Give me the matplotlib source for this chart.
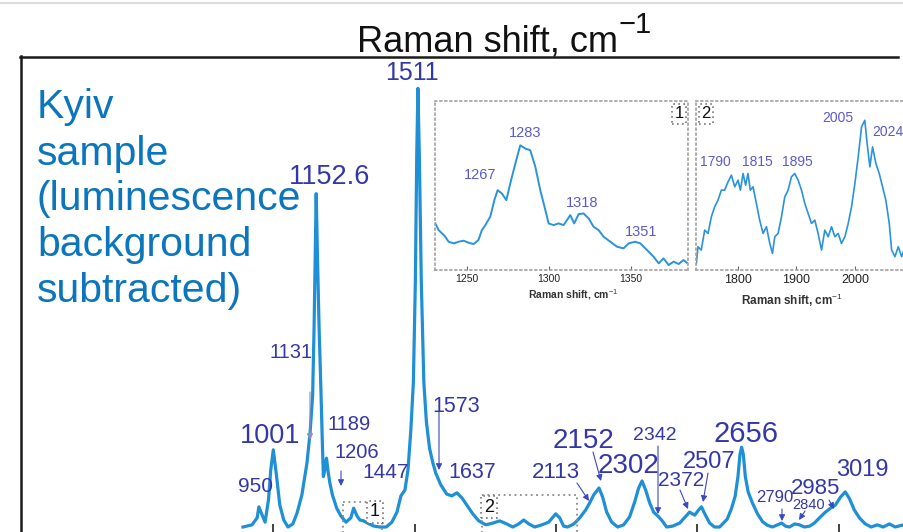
import matplotlib
matplotlib.use("Agg")
import matplotlib.pyplot as plt
from matplotlib.lines import Line2D
from matplotlib.patches import Rectangle
from matplotlib.transforms import Affine2D

W, H = 904, 532

# main spectrum: Raman shift (cm-1) vs intensity (a.u., background subtracted)
shift = [
    894, 926, 944, 950, 962, 972, 984, 992, 1001, 1012, 1024, 1038, 1053, 1070,
    1085, 1102, 1120, 1131, 1140, 1145, 1149, 1152.6, 1157, 1163, 1169, 1174,
    1178, 1183, 1189, 1195, 1201, 1210, 1225, 1240, 1258, 1275, 1285, 1297,
    1307, 1320, 1340, 1357, 1378, 1400, 1420, 1438, 1452, 1466, 1477, 1487,
    1496, 1503, 1508, 1512, 1517, 1524, 1533, 1542, 1553, 1565, 1575, 1593,
    1614, 1632, 1650, 1668, 1685, 1706, 1727, 1752, 1777, 1801, 1826, 1847,
    1868, 1886, 1904, 1925, 1950, 1974, 1999, 2013, 2027, 2041, 2063, 2084,
    2105, 2119, 2133, 2152, 2165, 2179, 2197, 2218, 2239, 2260, 2278, 2292,
    2304, 2317, 2331, 2345, 2360, 2373, 2391, 2412, 2437, 2454, 2472, 2490,
    2504, 2514, 2528, 2543, 2560, 2578, 2605, 2620, 2633, 2643, 2650, 2656,
    2662, 2669, 2679, 2694, 2712, 2730, 2747, 2765, 2783, 2797, 2811, 2825,
    2843, 2860, 2878, 2896, 2913, 2931, 2952, 2970, 2987, 3005, 3022, 3036,
    3054, 3072, 3093, 3114, 3135, 3156, 3178, 3199, 3227,
]
intensity = [
    0, 5, 21, 46, 27, 11, 62, 130, 176, 119, 50, 16, 0, 7,
    32, 73, 146, 215, 300, 450, 620, 760, 620, 450, 320, 200,
    115, 130, 157, 125, 100, 73, 43, 25, 11, 21, 43, 25,
    16, 14, 7, 2, 0, 0, 11, 34, 71, 84, 130, 221,
    330, 560, 850, 1000, 850, 560, 330, 240, 180, 146, 123, 96,
    75, 71, 78, 66, 50, 30, 14, 5, 9, 14, 7, 0,
    7, 16, 7, 0, 5, 11, 30, 21, 2, 0, 7, 21,
    39, 55, 73, 89, 68, 34, 11, 0, 5, 23, 57, 89,
    105, 84, 55, 34, 25, 16, 0, 2, 9, 21, 34, 27,
    39, 46, 27, 9, 0, 0, 18, 42, 70, 115, 165, 182,
    165, 115, 80, 55, 30, 12, 4, 0, 5, 9, 2, 0,
    7, 5, 0, 2, 9, 21, 34, 43, 50, 68, 80, 66,
    39, 21, 7, 0, 5, 0, 7, 0, 5,
]

# inset 1: 1230-1385 cm-1 region
inset1_shift = [
    1230.7, 1232.7, 1234.8, 1236.8, 1238.8, 1241.9, 1244.9, 1248.0, 1251.0,
    1254.0, 1257.0, 1259.1, 1261.2, 1264.2, 1266.7, 1268.7, 1271.3, 1274.0,
    1276.4, 1279.5, 1282.5, 1285.6, 1288.6, 1291.7, 1294.7, 1297.8, 1299.8,
    1302.8, 1305.9, 1308.9, 1311.0, 1313.0, 1315.4, 1318.1, 1321.1, 1324.2,
    1327.2, 1330.3, 1333.3, 1337.4, 1341.5, 1345.5, 1348.6, 1352.6, 1355.7,
    1359.8, 1363.8, 1366.9, 1369.9, 1373.0, 1376.0, 1379.1, 1382.1, 1384.1,
]
inset1_int = [
    28, 24, 22, 20, 17, 16, 17, 17.6, 16.4,
    15.6, 18, 24, 27, 32, 42, 48, 46, 42,
    52, 64, 75, 73, 72, 62, 48, 36, 28,
    27, 28, 27, 30, 33, 28, 33.6, 34, 31,
    26, 24, 20, 17, 14, 13, 16, 17, 16,
    12, 8, 4, 7, 3, 5, 3.6, 6, 4.4,
]

# inset 2: 1730-2085 cm-1 region
inset2_shift = [
    1728.6, 1731.4, 1737.0, 1742.9, 1748.6, 1754.3, 1760.0, 1765.7, 1771.4,
    1777.0, 1782.9, 1788.6, 1794.3, 1800.0, 1804.0, 1808.6, 1813.0, 1817.0,
    1821.0, 1825.7, 1831.4, 1837.0, 1842.9, 1848.6, 1854.3, 1858.9, 1862.9,
    1868.6, 1874.3, 1880.0, 1885.7, 1891.4, 1897.0, 1902.9, 1908.6, 1914.3,
    1920.0, 1925.7, 1931.4, 1937.0, 1942.9, 1948.6, 1954.3, 1960.0, 1965.7,
    1971.4, 1977.0, 1982.9, 1988.6, 1994.3, 2000.0, 2005.7, 2011.4, 2017.0,
    2021.0, 2025.7, 2030.3, 2036.0, 2041.7, 2047.4, 2053.0, 2058.9, 2062.9,
    2068.6, 2074.3, 2080.0, 2084.0,
]
inset2_int = [
    4, 14, 12, 24, 22, 32, 38, 42, 48,
    48, 53, 57, 50, 54, 48, 58, 51, 58,
    48, 50, 40, 30, 22, 26, 16, 10, 20,
    22, 32, 44, 48, 56, 58, 54, 48, 40,
    34, 28, 30, 22, 12, 24, 20, 26, 20,
    22, 16, 20, 28, 38, 52, 68, 86, 90,
    76, 62, 74, 64, 58, 50, 42, 28, 12,
    8, 14, 8, 12,
]

main_ticks = [1000, 1500, 2000, 2500, 3000]
inset1_ticks = [1250, 1300, 1350]
inset2_ticks = [1800, 1900, 2000]

peak_labels = ["1511", "1152.6", "1131", "1001", "1189", "1206", "950", "1447",
               "1573", "1637", "2113", "2152", "2342", "2302", "2656", "2507",
               "2372", "3019", "2985", "2790", "2840"]
inset1_labels = ["1267", "1283", "1318", "1351"]
inset2_labels = ["1790", "1815", "1895", "2005", "2024"]
sample_lines = ["Kyiv", "sample", "(luminescence", "background", "subtracted)"]

# layout (figure pixels, y downward)
peak_pos = [(412, 73, 18), (330, 177, 19.5), (291, 352, 14.5), (270, 436, 19.5),
            (349, 424, 14.5), (357, 452, 14.5), (256, 486, 15), (386, 473, 15),
            (456, 406, 15.5), (472, 473, 15.5), (556, 473, 16), (584, 441, 20),
            (655, 435, 14), (629, 466, 20), (746, 434, 21), (709, 462, 17),
            (681, 480, 15), (862, 470, 17), (816, 488, 16), (775, 497, 12),
            (809, 505, 10.5)]
inset1_pos = [(480, 175), (525, 133), (582, 203), (641, 232)]
inset2_pos = [(715, 162), (757, 162), (797, 162), (838, 118), (888, 132)]
arrows = [((310, 392), (310, 440)), ((341, 471), (341, 486)),
          ((439, 412), (439, 470)), ((577, 483), (589, 501)),
          ((593, 452), (601, 481)), ((658, 446), (658, 514)),
          ((680, 490), (688, 509)), ((708, 473), (703, 502)),
          ((782, 509), (782, 521)), ((805, 511), (799, 520)),
          ((829, 500), (834, 509))]

LABEL_FONT = ["Liberation Sans Narrow", "Liberation Sans"]
plt.rcParams["font.family"] = ["Liberation Sans", "DejaVu Sans"]
plt.rcParams["mathtext.fontset"] = "custom"
plt.rcParams["mathtext.rm"] = "Liberation Sans"

fig = plt.figure(figsize=(W / 100, H / 100), dpi=100)
pix = Affine2D().scale(1 / W, -1 / H).translate(0, 1) + fig.transFigure


def axes_px(left, top, right, bottom):
    return fig.add_axes([left / W, 1 - bottom / H, (right - left) / W, (bottom - top) / H])


# main spectrum axes (only the bottom ticks are visible)
ax = axes_px(21, 57, 904, 535)
ax.patch.set_visible(False)
for s in ax.spines.values():
    s.set_visible(False)
ax.plot(shift, intensity, color="#1f8fd6", linewidth=2.3, solid_joinstyle="round", clip_on=False)
ax.set_xlim(109.5, 3229.7)
ax.set_ylim(-18.2, 1071.6)
ax.set_xticks(main_ticks)
ax.set_yticks([])
ax.tick_params(axis="x", direction="in", length=8, width=1.3, color="#333333", labelbottom=False)


def style_inset(a, ticks, xlim, label_x, label_y, label_size, tick_size):
    a.set_xlim(*xlim)
    a.set_ylim(0, 101.6)
    a.set_yticks([])
    a.set_xticks(ticks)
    a.tick_params(axis="x", direction="in", length=3, width=0.8, color="#666666",
                  labelsize=tick_size, pad=3, labelcolor="#222222")
    for s in a.spines.values():
        s.set_linestyle((0, (1, 2)))
        s.set_color("#a0a0a0")
        s.set_linewidth(1.2)
    a.set_xlabel("Raman shift, cm$^{-1}$", fontsize=label_size, fontweight="bold",
                 color="#333333", labelpad=1)
    a.xaxis.set_label_coords(label_x, label_y)


ax1 = axes_px(435, 101, 688, 270)
ax1.plot(inset1_shift, inset1_int, color="#2a93dc", linewidth=1.4)
style_inset(ax1, inset1_ticks, (1230.5, 1384.8), 0.545, -0.1, 7.5, 7.5)

ax2 = axes_px(696, 101, 920, 270)
ax2.plot(inset2_shift, inset2_int, color="#2a93dc", linewidth=1.2)
style_inset(ax2, inset2_ticks, (1728, 2111.5), 0.43, -0.13, 8.5, 9)

# outer frame
fig.add_artist(Line2D([20, 898], [57, 57], transform=pix, color="#1a1a1a", linewidth=1.8))
fig.add_artist(Line2D([21, 21], [56, 533], transform=pix, color="#1a1a1a", linewidth=1.8))
fig.add_artist(Line2D([0, 904], [3, 3], transform=pix, color="#dddddd", linewidth=1.5))

# title
fig.text(618, 52, "Raman shift, cm", transform=pix, fontsize=26, ha="right", va="baseline", color="#111111")
fig.text(619, 33, "\u22121", transform=pix, fontsize=21, ha="left", va="baseline", color="#111111")

# sample description
for line, base in zip(sample_lines, [118, 165, 210, 256, 302]):
    fig.text(37, base, line, transform=pix, fontsize=29.5, color="#0b76bd", va="baseline")

# peak labels and arrows
for txt, (x, y, size) in zip(peak_labels, peak_pos):
    fig.text(x, y, txt, transform=pix, fontsize=size, family=LABEL_FONT, color="#3437a8",
             ha="center", va="center")
for i, (tail, head) in enumerate(arrows):
    col = "#8a90c8" if i == 0 else "#3c48c0"
    ax.annotate("", xy=head, xytext=tail, xycoords=pix, textcoords=pix,
                arrowprops=dict(arrowstyle="-|>", color=col, lw=0.8, mutation_scale=9,
                                shrinkA=0, shrinkB=0))

for txt, (x, y) in zip(inset1_labels, inset1_pos):
    fig.text(x, y, txt, transform=pix, fontsize=10.5, color="#5a5acd", ha="center", va="center")
for txt, (x, y) in zip(inset2_labels, inset2_pos):
    fig.text(x, y, txt, transform=pix, fontsize=10, color="#5a5acd", ha="center", va="center")

# dotted region boxes on the main spectrum
for (x0, y0, w, h) in [(343, 502, 39, 35), (482, 495, 95, 42)]:
    fig.add_artist(Rectangle((x0, y0), w, h, transform=pix, fill=False, edgecolor="#8a8a8a",
                             linestyle=(0, (1, 2)), linewidth=1.3))
box = dict(boxstyle="square,pad=0.15", facecolor="white", edgecolor="#777777",
           linestyle=(0, (1, 2)), linewidth=1.2)
for txt, x, y, size in [("1", 375, 512, 13), ("2", 489, 507, 13), ("1", 679, 114, 12), ("2", 706, 114, 12)]:
    fig.text(x, y, txt, transform=pix, fontsize=size, color="#111111", ha="center", va="center", bbox=box)

fig.savefig("out.png", dpi=100)
